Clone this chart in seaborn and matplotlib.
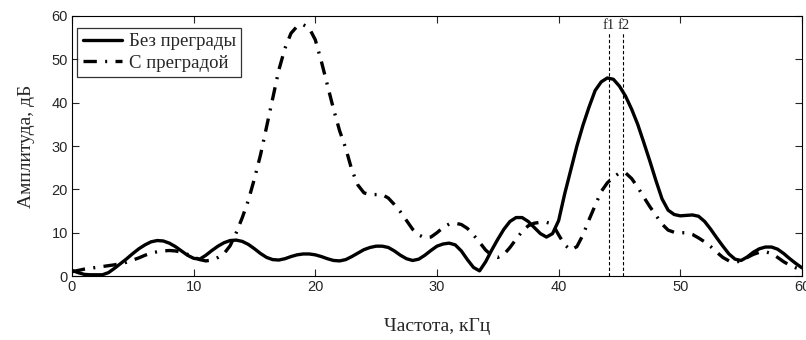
import numpy as np
import pandas as pd
import matplotlib
matplotlib.use("Agg")
import matplotlib.pyplot as plt
import seaborn as sns

# частоты, кГц
freq = [
    0, 0.5, 1, 1.5, 2, 2.5, 3, 3.5, 4, 4.5, 5, 5.5, 6, 6.5, 7, 7.5, 8, 8.5, 9, 9.5,
    10, 10.5, 11, 11.5, 12, 12.5, 13, 13.5, 14, 14.5, 15, 15.5, 16, 16.5, 17, 17.5,
    18, 18.5, 19, 19.5, 20, 20.5, 21, 21.5, 22, 22.5, 23, 23.5, 24, 24.5, 25, 25.5,
    26, 26.5, 27, 27.5, 28, 28.5, 29, 29.5, 30, 30.5, 31, 31.5, 32, 32.5, 33, 33.5,
    34, 34.5, 35, 35.5, 36, 36.5, 37, 37.5, 38, 38.5, 39, 39.5, 40, 40.5, 41, 41.5,
    42, 42.5, 43, 43.5, 44, 44.5, 45, 45.5, 46, 46.5, 47, 47.5, 48, 48.5, 49, 49.5,
    50, 50.5, 51, 51.5, 52, 52.5, 53, 53.5, 54, 54.5, 55, 55.5, 56, 56.5, 57, 57.5,
    58, 58.5, 59, 59.5, 60,
]

# без преграды, дБ
amp_free = [
    1.3, 0.8, 0.4, 0.3, 0.3, 0.3, 0.8, 1.8, 2.9, 4.0, 5.2, 6.3, 7.2, 7.9, 8.2, 8.1, 7.6, 6.8, 5.8, 4.8,
    4.1, 3.9, 4.8, 5.9, 6.9, 7.7, 8.2, 8.3, 8.0, 7.3, 6.3, 5.2, 4.3, 3.8, 3.7, 4.0,
    4.5, 4.9, 5.1, 5.1, 4.9, 4.5, 4.0, 3.6, 3.5, 3.8, 4.5, 5.3, 6.1, 6.6, 6.9, 6.9,
    6.6, 5.8, 4.8, 4.0, 3.6, 3.9, 4.8, 5.9, 6.9, 7.4, 7.6, 7.2, 5.8, 3.8, 2.0, 1.2,
    3.3, 6.0, 8.5, 10.8, 12.6, 13.5, 13.5, 12.6, 11.2, 9.8, 9.0, 9.8, 12.8, 19.0, 24.5, 30.0,
    34.8, 39.0, 42.8, 44.8, 45.7, 45.4, 43.8, 41.5, 38.5, 35.0, 30.8, 26.5, 22.0, 17.8, 15.2, 14.2,
    13.9, 14.0, 14.1, 13.8, 12.6, 10.8, 8.8, 6.9, 5.1, 3.9, 3.6, 4.4, 5.5, 6.3, 6.7, 6.7,
    6.2, 5.2, 4.0, 2.9, 1.9,
]

# с преградой, дБ
amp_wall = [
    1.0, 1.3, 1.6, 1.8, 2.0, 2.2, 2.4, 2.6, 2.9, 3.2, 3.7, 4.2, 4.8, 5.3, 5.6, 5.8, 5.9, 5.8, 5.5, 5.0,
    4.4, 3.8, 3.5, 3.7, 4.3, 5.2, 7.0, 10.0, 13.5, 17.5, 22.5, 28.0, 34.5, 41.0, 47.5, 52.5,
    56.0, 57.6, 58.0, 57.2, 54.5, 49.5, 44.0, 38.5, 33.5, 29.5, 24.5, 21.0, 19.2, 18.8, 18.8, 18.8,
    18.0, 16.5, 14.8, 12.8, 10.8, 9.5, 8.8, 9.0, 10.0, 11.2, 12.0, 12.2, 11.9, 11.0, 9.5, 7.8,
    6.0, 4.8, 4.3, 5.0, 6.6, 8.5, 10.3, 11.6, 12.2, 12.4, 12.4, 12.0, 9.5, 7.2, 6.0, 6.8,
    9.5, 13.0, 16.3, 19.5, 21.5, 22.8, 23.8, 23.8, 22.5, 20.5, 18.2, 16.0, 14.0, 12.0, 10.6, 10.1,
    10.0, 10.0, 9.6, 8.8, 7.9, 6.8, 5.5, 4.3, 3.5, 3.2, 3.5, 4.3, 5.0, 5.5, 5.6, 5.2,
    4.3, 3.3, 2.5, 1.9, 1.4,
]

markers_f = [44.1, 45.3]
markers_lbl = ["f1", "f2"]

df = pd.DataFrame({"freq": freq, "free": amp_free, "wall": amp_wall})

sns.set_style("ticks")
plt.rcParams["font.family"] = ["Liberation Serif", "DejaVu Serif"]

fig = plt.figure(figsize=(8.06, 3.40), dpi=100)
ax = fig.add_axes([0.0893, 0.188, 0.9057, 0.765])

sns.lineplot(data=df, x="freq", y="free", ax=ax, color="black", lw=2.4,
             label="Без преграды")
sns.lineplot(data=df, x="freq", y="wall", ax=ax, color="black", lw=2.4,
             linestyle=(0, (4, 2.5, 0.6, 2.5)), label="С преградой")

for f, lbl in zip(markers_f, markers_lbl):
    ax.vlines(f, 0, 56, colors="black", linestyles=(0, (3, 2)), lw=0.8)
    ax.text(f, 56.3, lbl, ha="center", va="bottom", fontsize=10.5)

ax.set_xlim(0, 60)
ax.set_ylim(0, 60)
ax.set_xticks([0, 10, 20, 30, 40, 50, 60])
ax.set_yticks([0, 10, 20, 30, 40, 50, 60])
ax.tick_params(direction="in", top=True, right=True, length=5, width=0.8,
               labelsize=10.5, pad=3)
for lab in ax.get_xticklabels() + ax.get_yticklabels():
    lab.set_family(["Liberation Sans Narrow", "Liberation Sans", "DejaVu Sans"])
for s in ax.spines.values():
    s.set_linewidth(0.8)
    s.set_color("black")

ax.set_xlabel("Частота, кГц", fontsize=14, labelpad=17)
ax.set_ylabel("Амплитуда, дБ", fontsize=14, labelpad=12)

leg = ax.legend(loc="upper left", bbox_to_anchor=(0.007, 0.955), borderaxespad=0,
                fontsize=13.5, handlelength=2.1, frameon=True, fancybox=False,
                edgecolor="black", handletextpad=0.35, borderpad=0.3,
                labelspacing=0.22)
leg.get_frame().set_linewidth(0.9)

fig.savefig("out.png", dpi=100)
